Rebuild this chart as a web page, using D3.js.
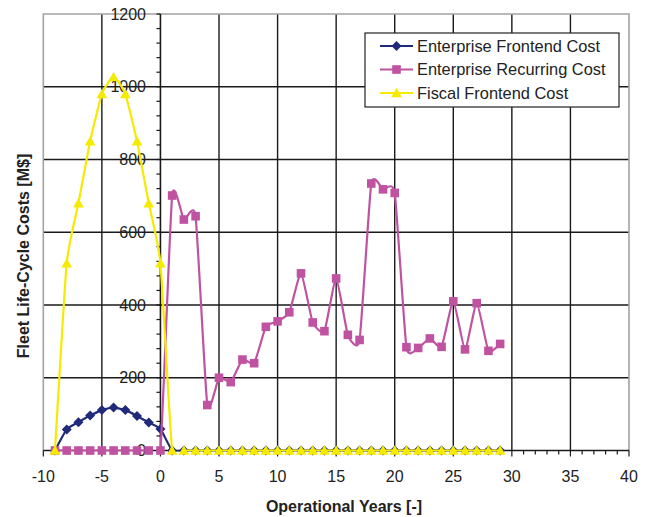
<!DOCTYPE html>
<html>
<head>
<meta charset="utf-8">
<script src="https://cdn.jsdelivr.net/npm/d3@7"></script>
<style>
  html, body { margin: 0; padding: 0; background: #fff; }
  svg { display: block; }
  text { font-family: "Liberation Sans", Arial, sans-serif; fill: #222; }
</style>
</head>
<body>
<svg id="chart" width="649" height="517"></svg>
<script>
// Operational years, from 9 years before service entry to year 29
const years = [-9, -8, -7, -6, -5, -4, -3, -2, -1, 0,
  1, 2, 3, 4, 5, 6, 7, 8, 9, 10, 11, 12, 13, 14, 15, 16, 17, 18, 19, 20,
  21, 22, 23, 24, 25, 26, 27, 28, 29];

// Costs in M$ per year
const enterpriseFrontend = [0, 58, 78, 96, 111, 118, 111, 95, 77, 59,
  0, 0, 0, 0, 0, 0, 0, 0, 0, 0, 0, 0, 0, 0, 0, 0, 0, 0, 0, 0,
  0, 0, 0, 0, 0, 0, 0, 0, 0];
const enterpriseRecurring = [0, 0, 0, 0, 0, 0, 0, 0, 0, 0,
  701, 635, 644, 125, 200, 188, 250, 240, 340, 355, 380, 487, 352, 328, 473, 318, 304, 734, 718, 708,
  284, 282, 308, 285, 410, 278, 405, 274, 293];
const fiscalFrontend = [0, 515, 680, 850, 980, 1027, 980, 850, 680, 515,
  0, 0, 0, 0, 0, 0, 0, 0, 0, 0, 0, 0, 0, 0, 0, 0, 0, 0, 0, 0,
  0, 0, 0, 0, 0, 0, 0, 0, 0];

const seriesNames = ["Enterprise Frontend Cost", "Enterprise Recurring Cost", "Fiscal Frontend Cost"];
const seriesColors = ["#1f2a7a", "#c052a2", "#f6ea00"];
const seriesMarkers = ["diamond", "square", "triangle"];

const xTicks = [-10, -5, 0, 5, 10, 15, 20, 25, 30, 35, 40];
const yTicks = [0, 200, 400, 600, 800, 1000, 1200];

const svg = d3.select("#chart");
const x = d3.scaleLinear().domain([-10, 40]).range([43.3, 629]);
const y = d3.scaleLinear().domain([0, 1200]).range([450.5, 14]);

// Lines are clipped to the plot area
svg.append("clipPath").attr("id", "plot-clip")
  .append("rect")
  .attr("x", x(-10)).attr("y", y(1200))
  .attr("width", x(40) - x(-10)).attr("height", y(0) - y(1200) + 1);

// Marker shapes
function markerPath(kind) {
  if (kind === "diamond") return "M0,-5L5,0L0,5L-5,0Z";
  if (kind === "square") return "M-4.3,-4.3H4.3V4.3H-4.3Z";
  return "M0,-5.2L5.3,4.3H-5.3Z";
}

// Grid
const grid = svg.append("g");
grid.selectAll(".gx").data(xTicks.filter(d => d > -10 && d < 40 && d !== 0)).join("line")
  .attr("x1", d => x(d)).attr("x2", d => x(d))
  .attr("y1", y(1200)).attr("y2", y(0))
  .attr("stroke", "#1a1a1a").attr("stroke-width", 1.4);
grid.selectAll(".gy").data(yTicks.filter(d => d > 0 && d < 1200)).join("line")
  .attr("x1", x(-10)).attr("x2", x(40))
  .attr("y1", d => y(d)).attr("y2", d => y(d))
  .attr("stroke", "#1a1a1a").attr("stroke-width", 1.4);

// Plot frame
svg.append("path")
  .attr("d", `M${x(-10)},${y(0)}V${y(1200)}H${x(40)}V${y(0)}`)
  .attr("fill", "none").attr("stroke", "#a3a3a3").attr("stroke-width", 1.6);

// X axis along y = 0
const xAxis = svg.append("g");
xAxis.append("line")
  .attr("x1", x(-10)).attr("x2", x(40)).attr("y1", y(0)).attr("y2", y(0))
  .attr("stroke", "#1a1a1a").attr("stroke-width", 1.6);
xAxis.selectAll(".mx").data(d3.range(-10, 41, 1)).join("line")
  .attr("x1", d => x(d)).attr("x2", d => x(d))
  .attr("y1", y(0)).attr("y2", d => y(0) + (d % 5 === 0 ? 6 : 4))
  .attr("stroke", "#1a1a1a").attr("stroke-width", 1.2);
xAxis.selectAll(".tx").data(xTicks).join("text")
  .attr("x", d => x(d)).attr("y", 482)
  .attr("text-anchor", "middle").attr("font-size", 16)
  .text(d => d);

// Y axis along x = 0
const yAxis = svg.append("g");
yAxis.append("line")
  .attr("x1", x(0)).attr("x2", x(0)).attr("y1", y(0)).attr("y2", y(1200))
  .attr("stroke", "#1a1a1a").attr("stroke-width", 1.6);
yAxis.selectAll(".my").data(d3.range(0, 1201, 40)).join("line")
  .attr("x1", x(0) - 4).attr("x2", x(0))
  .attr("y1", d => y(d)).attr("y2", d => y(d))
  .attr("stroke", "#1a1a1a").attr("stroke-width", 1.2);
yAxis.selectAll(".ty").data(yTicks).join("text")
  .attr("x", 146).attr("y", d => y(d)).attr("dy", "0.35em")
  .attr("text-anchor", "end").attr("font-size", 16)
  .text(d => d);

// Axis titles
svg.append("text")
  .attr("x", 344).attr("y", 512)
  .attr("text-anchor", "middle").attr("font-size", 16).attr("font-weight", "bold")
  .text("Operational Years [-]");
svg.append("text")
  .attr("transform", "translate(29,256) rotate(-90)")
  .attr("text-anchor", "middle").attr("font-size", 16).attr("font-weight", "bold")
  .text("Fleet Life-Cycle Costs [M$]");

// Series, drawn as lightly smoothed lines with markers
const allSeries = [enterpriseFrontend, enterpriseRecurring, fiscalFrontend];
const line = d3.line()
  .x((d, i) => x(years[i]))
  .y(d => y(d))
  .curve(d3.curveCardinal.tension(0.5));

allSeries.forEach((vals, s) => {
  const g = svg.append("g");
  g.append("path")
    .attr("d", line(vals))
    .attr("clip-path", "url(#plot-clip)")
    .attr("fill", "none")
    .attr("stroke", seriesColors[s])
    .attr("stroke-width", 2.2);
  g.selectAll("path.m").data(vals).join("path")
    .attr("class", "m")
    .attr("transform", (d, i) => `translate(${x(years[i])},${y(d)})`)
    .attr("d", markerPath(seriesMarkers[s]))
    .attr("fill", seriesColors[s]);
});

// Legend
const legend = svg.append("g");
legend.append("rect")
  .attr("x", 365).attr("y", 33).attr("width", 254).attr("height", 74)
  .attr("fill", "#fff").attr("stroke", "#222").attr("stroke-width", 1.2);
seriesNames.forEach((name, s) => {
  const ry = 46 + s * 23.5;
  legend.append("line")
    .attr("x1", 380).attr("x2", 413).attr("y1", ry).attr("y2", ry)
    .attr("stroke", seriesColors[s]).attr("stroke-width", 2.2);
  legend.append("path")
    .attr("transform", `translate(396.5,${ry})`)
    .attr("d", markerPath(seriesMarkers[s]))
    .attr("fill", seriesColors[s]);
  legend.append("text")
    .attr("x", 417).attr("y", ry).attr("dy", "0.35em")
    .attr("font-size", 16.4)
    .text(name);
});
</script>
</body>
</html>
